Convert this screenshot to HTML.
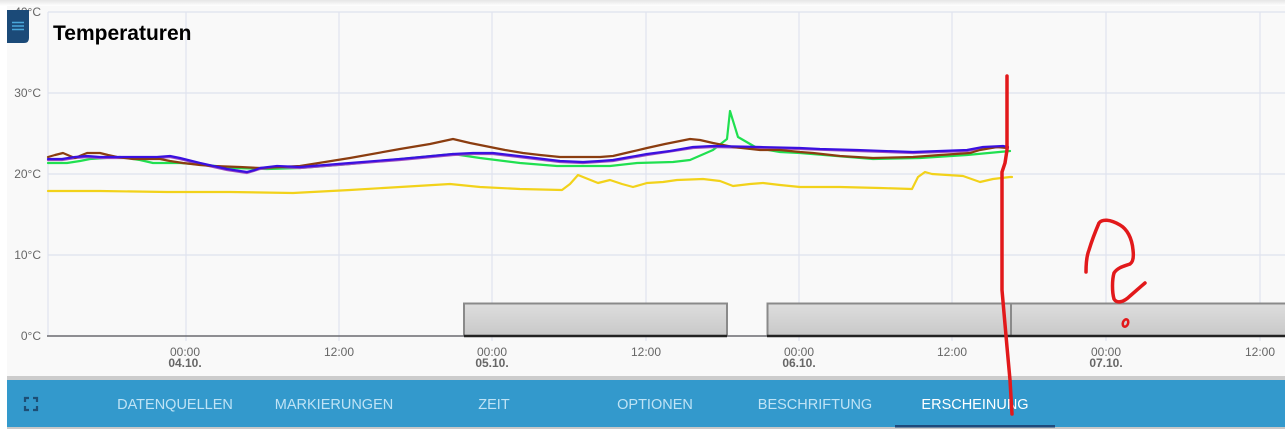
<!DOCTYPE html>
<html><head><meta charset="utf-8"><style>
html,body{margin:0;padding:0;background:#fff;}
body{width:1285px;height:429px;overflow:hidden;position:relative;font-family:"Liberation Sans",Arial,sans-serif;}
svg{position:absolute;left:0;top:0;}
</style></head><body>
<svg width="1285" height="429" viewBox="0 0 1285 429" xmlns="http://www.w3.org/2000/svg">
<defs>
<linearGradient id="sh" x1="0" y1="0" x2="0" y2="1"><stop offset="0" stop-color="#e6e6e6"/><stop offset="1" stop-color="#ffffff"/></linearGradient>
<linearGradient id="bar" x1="0" y1="0" x2="0" y2="1"><stop offset="0" stop-color="#dedede"/><stop offset="1" stop-color="#c8c8c8"/></linearGradient>
</defs>
<rect x="0" y="0" width="1285" height="429" fill="#ffffff"/>
<rect x="0" y="0" width="1285" height="6" fill="url(#sh)"/>
<rect x="7" y="6" width="1278" height="370" fill="#f9f9f9"/>
<!-- grid -->
<g stroke="#dfe3ef" stroke-width="1.2" fill="none">
<line x1="48" y1="12" x2="1285" y2="12"/>
<line x1="48" y1="93" x2="1285" y2="93"/>
<line x1="48" y1="174" x2="1285" y2="174"/>
<line x1="48" y1="255" x2="1285" y2="255"/>
<line x1="48" y1="12" x2="48" y2="336"/>
<line x1="186" y1="12" x2="186" y2="341"/>
<line x1="339" y1="12" x2="339" y2="341"/>
<line x1="492" y1="12" x2="492" y2="341"/>
<line x1="646" y1="12" x2="646" y2="341"/>
<line x1="799" y1="12" x2="799" y2="341"/>
<line x1="952" y1="12" x2="952" y2="341"/>
<line x1="1106" y1="12" x2="1106" y2="341"/>
<line x1="1260" y1="12" x2="1260" y2="341"/>
</g>
<!-- y labels -->
<g font-family="Liberation Sans, Arial, sans-serif" font-size="12" fill="#666" text-anchor="end">
<text x="41" y="16">40°C</text>
<text x="41" y="97">30°C</text>
<text x="41" y="178">20°C</text>
<text x="41" y="259">10°C</text>
<text x="41" y="340">0°C</text>
</g>
<!-- bars -->
<g>
<rect x="464" y="303" width="263" height="33" fill="url(#bar)"/>
<rect x="767" y="303" width="244" height="33" fill="url(#bar)"/>
<rect x="1011" y="303" width="274" height="33" fill="url(#bar)"/>
<g stroke="#8a8a8a" stroke-width="2" fill="none">
<polyline points="464,336 464,303.5 727,303.5 727,336"/>
<polyline points="767.5,336 767.5,303.5 1285,303.5"/>
<line x1="1011" y1="303" x2="1011" y2="336"/>
</g>
</g>
<line x1="47" y1="336" x2="1285" y2="336" stroke="#6a6a70" stroke-width="1.5"/>
<line x1="464" y1="336" x2="727" y2="336" stroke="#222" stroke-width="2.5"/>
<line x1="767" y1="336" x2="1285" y2="336" stroke="#222" stroke-width="2.5"/>
<!-- x labels -->
<g font-family="Liberation Sans, Arial, sans-serif" font-size="12" fill="#666" text-anchor="middle">
<text x="185" y="356">00:00</text><text x="185" y="367" font-weight="bold">04.10.</text>
<text x="339" y="356">12:00</text>
<text x="492" y="356">00:00</text><text x="492" y="367" font-weight="bold">05.10.</text>
<text x="646" y="356">12:00</text>
<text x="799" y="356">00:00</text><text x="799" y="367" font-weight="bold">06.10.</text>
<text x="952" y="356">12:00</text>
<text x="1106" y="356">00:00</text><text x="1106" y="367" font-weight="bold">07.10.</text>
<text x="1260" y="356">12:00</text>
</g>
<!-- series -->
<g fill="none" stroke-width="2.2" stroke-linejoin="round" stroke-linecap="round">
<polyline stroke="#f2d21a" points="48,191 100,191 167,192 230,192 293,193 350,190 400,187 450,184 480,187 520,189 562,190 570,184 578,175 598,183 610,180 622,184 633,187 647,183 663,182 677,180 703,179 720,181 733,186 750,184 763,183 780,185 800,187 840,187 880,188 912,189 918,177 925,172 932,174 963,176 980,182 993,179 1010,177 1012,177"/>
<polyline stroke="#20e050" points="48,163 67,163 80,161 90,159 120,157 140,160 153,163 180,163 207,165 233,168 267,169 300,168 350,164 400,159 453,154 480,158 520,163 557,166 610,166 637,163 673,162 690,160 713,150 727,139 730,111 738,137 757,148 780,152 800,153 873,159 920,158 967,155 1010,151"/>
<polyline stroke="#a050c0" points="48,160 62,160 75,158 87,157 100,158 123,158 157,158 170,157 180,159 200,164 227,170 247,173 260,169 277,167 300,168 350,164 400,160 453,155 473,154 493,154 527,158 560,162 583,163 613,161 647,155 693,148 713,147 760,148 800,149 857,151 913,153 967,151 983,148 1003,147 1008,148"/>
<polyline stroke="#8b3d10" points="48,157 55,155 63,153 70,156 75,158 82,155 87,153 100,153 108,155 117,157 125,158 133,159 160,159 170,161 183,163 200,165 213,166 240,167 260,168 280,167 300,166 350,158 400,149 430,144 453,139 470,143 490,147 505,150 523,153 540,155 560,157 600,157 613,156 630,152 647,148 665,144 690,139 700,140 713,143 733,147 760,150 780,150 800,152 813,153 840,156 873,158 913,157 940,155 970,153 980,150 997,147 1007,148"/>
<polyline stroke="#3a10e0" points="48,159 62,159 75,157 87,156 100,157 123,157 157,157 170,156 180,158 200,163 227,169 240,171 247,172 255,170 260,168 277,166 300,167 350,163 400,159 453,154 473,153 493,153 510,155 527,157 560,161 583,162 600,161 613,160 630,157 647,154 670,151 693,147 713,146 760,147 800,148 820,149 857,150 913,152 967,150 983,147 1003,146 1008,147"/>
</g>
<!-- title -->
<text x="53" y="40" font-family="Liberation Sans, Arial, sans-serif" font-size="21" font-weight="bold" fill="#000">Temperaturen</text>
<!-- menu button -->
<path d="M7,10 H29 V38 Q29,43 24,43 H7 Z" fill="#1b4a78"/>
<g stroke="#4aa8dc" stroke-width="1.5"><line x1="12" y1="22.5" x2="24" y2="22.5"/><line x1="12" y1="26" x2="24" y2="26"/><line x1="12" y1="29.5" x2="24" y2="29.5"/></g>
<!-- bottom tab bar -->
<rect x="7" y="376" width="1278" height="4" fill="#cccccc"/>
<rect x="7" y="380" width="1278" height="47" fill="#3399cc"/>
<rect x="7" y="427" width="1278" height="2" fill="#c8c8c8"/>
<g fill="none" stroke="#1d4e75" stroke-width="2.2">
<polyline points="25,402 25,398 29,398"/><polyline points="33,398 37,398 37,402"/>
<polyline points="25,406 25,410 29,410"/><polyline points="33,410 37,410 37,406"/>
</g>
<g font-family="Liberation Sans, Arial, sans-serif" font-size="14.5" fill="#bfe3f5" text-anchor="middle">
<text x="175" y="409">DATENQUELLEN</text>
<text x="334" y="409">MARKIERUNGEN</text>
<text x="494" y="409">ZEIT</text>
<text x="655" y="409">OPTIONEN</text>
<text x="815" y="409">BESCHRIFTUNG</text>
<text x="975" y="409" fill="#ffffff">ERSCHEINUNG</text>
</g>
<rect x="895" y="425" width="160" height="2.5" fill="#1d4a7c"/>
<!-- red annotations -->
<g fill="none" stroke="#e2191b" stroke-width="3.5" stroke-linecap="round" stroke-linejoin="round">
<polyline points="1007,76 1007,150 1005,163 1002,172 1002,290 1004,313 1007,347 1010,380 1012,414"/>
<path d="M1086,272 C1086,262 1087,255 1089,250 C1092,240 1096,230 1099,223 C1102,219 1110,219 1120,225 C1127,229 1132,238 1133,250 C1134,258 1133,262 1130,264 C1125,266 1118,267 1114,273 C1112,280 1112,292 1114,299 C1117,304 1124,302 1130,296 L1145,283"/>
<ellipse cx="1125.5" cy="323" rx="2.6" ry="3.8" stroke-width="2.5" transform="rotate(20 1125.5 323)"/>
</g>
</svg>
</body></html>
